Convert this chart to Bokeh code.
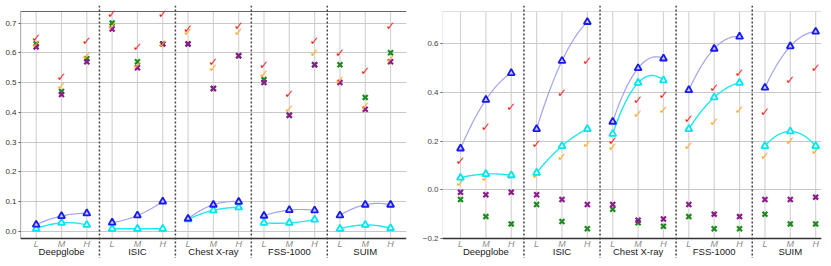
import numpy as np
from bokeh.plotting import figure
from bokeh.models import FixedTicker, Span
from bokeh.layouts import row
from bokeh.embed import file_html
from bokeh.resources import INLINE
from bokeh.core.properties import value

# ---------------- data ----------------
groups = ["Deepglobe", "ISIC", "Chest X-ray", "FSS-1000", "SUIM"]
levels = ["L", "M", "H"]

left_ticks = [0.0, 0.1, 0.2, 0.3, 0.4, 0.5, 0.6, 0.7]
left_tick_labels = ["0.0", "0.1", "0.2", "0.3", "0.4", "0.5", "0.6", "0.7"]
right_ticks = [-0.2, 0.0, 0.2, 0.4, 0.6]
right_tick_labels = ["\u22120.2", "0.0", "0.2", "0.4", "0.6"]

# left panel (per group: L, M, H)
left_red    = [0.65, 0.52, 0.64, 0.73, 0.62, 0.73, 0.68, 0.57, 0.69, 0.56, 0.46, 0.64, 0.60, 0.54, 0.69]
left_orange = [0.63, 0.49, 0.59, 0.69, 0.56, 0.63, 0.67, 0.55, 0.67, 0.53, 0.41, 0.60, 0.51, 0.42, 0.58]
left_green  = [0.63, 0.47, 0.58, 0.70, 0.57, 0.63, 0.63, 0.48, 0.59, 0.51, 0.39, 0.56, 0.56, 0.45, 0.60]
left_purple = [0.62, 0.46, 0.57, 0.68, 0.55, 0.63, 0.63, 0.48, 0.59, 0.50, 0.39, 0.56, 0.50, 0.41, 0.57]
left_blue   = [0.022, 0.051, 0.060, 0.029, 0.053, 0.100, 0.042, 0.089, 0.099, 0.052, 0.071, 0.070, 0.053, 0.089, 0.089]
left_cyan   = [0.008, 0.028, 0.021, 0.008, 0.008, 0.008, 0.040, 0.070, 0.080, 0.028, 0.028, 0.039, 0.008, 0.021, 0.010]

# right panel
right_red    = [0.12, 0.26, 0.34, 0.19, 0.40, 0.53, 0.20, 0.37, 0.39, 0.29, 0.42, 0.48, 0.32, 0.45, 0.50]
right_orange = [0.03, 0.05, 0.055, 0.06, 0.135, 0.19, 0.175, 0.31, 0.33, 0.18, 0.28, 0.33, 0.14, 0.20, 0.16]
right_green  = [-0.04, -0.11, -0.14, -0.06, -0.13, -0.16, -0.08, -0.135, -0.15, -0.11, -0.16, -0.16, -0.10, -0.14, -0.14]
right_purple = [-0.01, -0.02, -0.01, -0.02, -0.04, -0.06, -0.06, -0.125, -0.12, -0.06, -0.10, -0.11, -0.04, -0.04, -0.03]
right_blue   = [0.17, 0.37, 0.48, 0.25, 0.53, 0.69, 0.28, 0.50, 0.54, 0.41, 0.58, 0.63, 0.42, 0.59, 0.65]
right_cyan   = [0.05, 0.065, 0.06, 0.07, 0.18, 0.25, 0.23, 0.44, 0.45, 0.25, 0.38, 0.44, 0.18, 0.24, 0.18]

FONT = "Liberation Sans"
FIG_H = 258
BORDER_TOP = 5
BORDER_BOTTOM = 0
AX_TOP_PAD = 6      # px between frame top and axes top
AX_BOT_PAD = 20     # px between axes bottom and frame bottom (room for labels)


def make_panel(width, y_lo, y_hi, ticks, tick_labels, x_lo, x_hi,
               red, orange, green, purple, blue, cyan,
               spine_top, spine_left, min_left, min_right, label_color):
    frame_h = FIG_H - BORDER_TOP - BORDER_BOTTOM
    axes_h = frame_h - AX_TOP_PAD - AX_BOT_PAD
    ppu = axes_h / (y_hi - y_lo)
    y_start = y_lo - AX_BOT_PAD / ppu
    y_end = y_hi + AX_TOP_PAD / ppu

    p = figure(width=width, height=FIG_H, x_range=(x_lo, x_hi), y_range=(y_start, y_end),
               output_backend="svg", toolbar_location=None, x_axis_location=None,
               min_border_top=BORDER_TOP, min_border_bottom=BORDER_BOTTOM,
               min_border_left=min_left, min_border_right=min_right)
    p.outline_line_color = None
    p.background_fill_color = "white"
    p.border_fill_color = "white"

    # y axis
    p.yaxis.ticker = FixedTicker(ticks=ticks)
    p.yaxis.major_label_overrides = {t: s for t, s in zip(ticks, tick_labels)}
    p.yaxis.axis_line_color = None
    p.yaxis.major_tick_in = 0
    p.yaxis.major_tick_out = 2
    p.yaxis.major_tick_line_color = "#555555"
    p.yaxis.minor_tick_line_color = None
    p.yaxis.major_label_text_font_size = "8px"
    p.yaxis.major_label_text_font = FONT
    p.yaxis.major_label_text_color = label_color
    p.yaxis.major_label_standoff = 2
    p.ygrid.ticker = FixedTicker(ticks=ticks)
    p.ygrid.grid_line_color = "#c8c8c8"
    p.ygrid.grid_line_width = 1
    p.xgrid.visible = False

    n = len(groups) * len(levels)
    xs = list(range(n))

    # vertical grid lines at each L/M/H position
    vg = p.segment(x0=xs, y0=[y_lo] * n, x1=xs, y1=[y_hi] * n,
                   line_color="#d4d4d4", line_width=1.2)
    vg.level = "underlay"

    # spines
    p.segment(x0=[x_lo], y0=[y_hi], x1=[x_hi], y1=[y_hi], line_color=spine_top, line_width=1.2)
    p.segment(x0=[x_lo], y0=[y_lo], x1=[x_lo], y1=[y_hi], line_color=spine_left, line_width=1.2)
    p.segment(x0=[x_lo], y0=[y_lo], x1=[x_hi], y1=[y_lo], line_color="#333333", line_width=1.5)

    # group separators
    for g in range(1, len(groups)):
        p.add_layout(Span(location=3 * g - 0.5, dimension="height", line_color="#444444",
                          line_width=1.5, line_dash="2 2"))

    # smooth curves through the triangles of each group
    for vals, col, w in ((blue, "#a3a3ee", 1.2), (cyan, "#22e8f0", 1.4)):
        cx, cy = [], []
        for g in range(len(groups)):
            gx = np.array([3 * g, 3 * g + 1, 3 * g + 2], dtype=float)
            gy = np.array(vals[3 * g:3 * g + 3], dtype=float)
            coef = np.polyfit(gx, gy, 2)
            fx = np.linspace(gx[0], gx[-1], 40)
            cx.append(list(fx))
            cy.append(list(np.polyval(coef, fx)))
        p.multi_line(cx, cy, line_color=col, line_width=w)

    # x markers
    p.scatter(xs, green, marker="x", size=7, line_width=2.2, line_color="#1f8a1f")
    p.scatter(xs, purple, marker="x", size=7, line_width=2.2, line_color="#8b1a8b")
    # check markers
    p.text(xs, orange, text=["\u2713"] * n, text_color="#ffaa22", text_font_size="12px",
           text_font=value("DejaVu Sans"), text_font_style="bold",
           text_align="center", text_baseline="middle")
    p.text(xs, red, text=["\u2713"] * n, text_color="#ee1c1c", text_font_size="12px",
           text_font=value("DejaVu Sans"), text_font_style="bold",
           text_align="center", text_baseline="middle")
    # triangles
    p.scatter(xs, cyan, marker="triangle", size=7, line_color="#00e5ee",
              fill_color="#e8ffff", line_width=1.8)
    p.scatter(xs, blue, marker="triangle", size=7, line_color="#1a1aee",
              fill_color="#c8c8ff", line_width=1.8)

    # level tick labels and group names below the axes
    p.text(xs, [y_lo] * n, text=levels * len(groups), text_font=value(FONT),
           text_font_style="italic", text_color="#8c8c8c", text_font_size="9px",
           text_align="center", text_baseline="middle", y_offset=5)
    gx = [3 * g + 1 for g in range(len(groups))]
    p.text(gx, [y_lo] * len(groups), text=groups, text_font=value(FONT),
           text_color="#1a1a1a", text_font_size="9.5px",
           text_align="center", text_baseline="middle", y_offset=13)
    return p


p1 = make_panel(418, -0.0246, 0.739, left_ticks, left_tick_labels, -0.62, 14.63,
                left_red, left_orange, left_green, left_purple, left_blue, left_cyan,
                "#666666", "#666666", 20, 12, "#333333")
p2 = make_panel(405, -0.2, 0.733, right_ticks, right_tick_labels, -0.71, 14.23,
                right_red, right_orange, right_green, right_purple, right_blue, right_cyan,
                "#dddddd", "#dddddd", 24, 2, "#444444")

layout = row(p1, p2)
open("out.html", "w").write(file_html(layout, INLINE))
